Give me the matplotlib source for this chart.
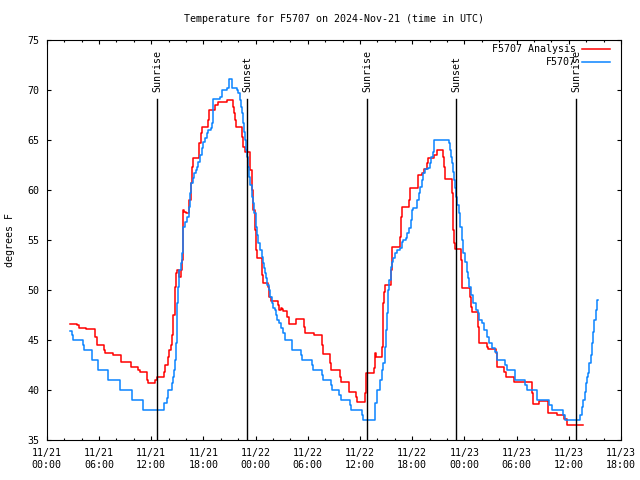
import matplotlib
matplotlib.use("Agg")
import matplotlib.pyplot as plt
from matplotlib.ticker import MultipleLocator

# hours since 2024-11-21 00:00 UTC, temperature in deg F
analysis_hours = [2.68, 3.44, 3.71, 4.48, 5.55, 5.74, 6.59, 6.70, 7.58, 8.54, 9.65, 10.53, 10.72,
                  11.49, 11.60, 12.45, 12.64, 13.48, 13.60, 13.98, 14.10, 14.25, 14.44, 14.56,
                  14.75, 14.86, 15.02, 15.25, 15.40, 15.51, 15.63, 15.71, 15.82, 15.97, 16.40,
                  16.55, 16.66, 16.78, 17.54, 17.70, 17.81, 18.50, 18.69, 19.35, 19.73, 20.69,
                  21.38, 21.53, 21.64, 21.76, 22.49, 22.60, 22.79, 23.37, 23.56, 23.75, 23.94,
                  24.06, 24.14, 24.71, 24.79, 24.83, 25.48, 25.59, 25.75, 26.63, 26.74, 26.89,
                  27.01, 27.12, 27.66, 27.81, 28.62, 29.62, 29.69, 30.73, 31.61, 31.72, 32.57,
                  32.64, 33.71, 33.79, 34.71, 35.55, 35.67, 36.59, 36.70, 37.62, 37.73, 37.85,
                  38.50, 38.62, 38.69, 38.81, 38.92, 39.53, 39.65, 39.73, 40.61, 40.72, 40.80,
                  41.68, 41.76, 42.71, 43.10, 43.37, 43.67, 43.79, 44.52, 44.82, 45.51, 45.66,
                  45.78, 46.55, 46.66, 46.74, 46.85, 46.97, 47.62, 47.70, 47.77, 48.65, 48.77,
                  48.92, 49.61, 49.69, 50.65, 50.76, 51.64, 51.76, 52.60, 52.75, 53.75, 55.74,
                  55.86, 56.62, 57.60, 58.69, 59.46, 59.77, 61.60]
analysis_temp = [46.6, 46.5, 46.2, 46.1, 45.3, 44.5, 44.0, 43.7, 43.5, 42.8, 42.3, 42.0, 41.8,
                 41.0, 40.7, 41.0, 41.3, 41.8, 42.5, 43.3, 44.0, 44.5, 45.5, 47.5,
                 50.3, 51.7, 52.0, 51.3, 52.0, 53.0, 56.3, 58.0, 57.8, 57.7, 59.0,
                 60.7, 62.3, 63.2, 64.7, 65.7, 66.3, 67.0, 68.0, 68.5, 68.8, 69.0,
                 68.3, 67.7, 67.0, 66.3, 65.3, 64.3, 63.8, 62.0, 60.0, 58.0, 56.0,
                 54.0, 53.2, 52.5, 51.5, 50.7, 50.3, 49.3, 48.9, 48.5, 48.0, 48.2,
                 48.1, 47.9, 47.3, 46.6, 47.1, 46.3, 45.7, 45.5, 44.5, 43.6, 42.7,
                 42.0, 41.3, 40.8, 39.8, 39.3, 38.8, 39.7, 41.7, 42.2, 43.7, 43.3,
                 44.3, 46.7, 48.7, 49.8, 50.5, 52.0, 53.3, 54.3, 55.3, 57.3, 58.3,
                 59.0, 60.2, 61.5, 61.7, 62.1, 62.7, 63.2, 63.5, 64.0, 63.3, 62.3,
                 61.1, 59.7, 57.3, 56.0, 54.7, 54.1, 53.0, 51.3, 50.2, 49.3, 48.3,
                 47.8, 46.3, 44.7, 44.3, 44.1, 43.7, 42.3, 41.8, 41.3, 40.8, 39.7,
                 38.6, 38.9, 37.7, 37.5, 37.1, 36.5, 36.5]

obs_hours = [2.68, 2.95, 3.06, 4.21, 4.33, 5.24, 5.93, 7.08, 8.43, 9.77, 11.10, 13.48, 13.79,
             13.98, 14.36, 14.48, 14.63, 14.79, 14.86, 14.94, 15.02, 15.13, 15.25, 15.40, 15.51,
             15.63, 15.71, 15.86, 16.09, 16.32, 16.40, 16.47, 16.63, 16.78, 16.97, 17.12, 17.24,
             17.43, 17.62, 17.81, 18.00, 18.20, 18.39, 18.58, 18.85, 18.96, 19.15, 19.92, 20.11,
             20.76, 20.95, 21.26, 21.84, 22.03, 22.22, 22.33, 22.45, 22.60, 22.72, 22.83, 22.95,
             23.06, 23.18, 23.29, 23.37, 23.56, 23.75, 23.87, 24.02, 24.14, 24.33, 24.52, 24.71,
             24.83, 24.98, 25.09, 25.21, 25.36, 25.55, 25.67, 25.86, 26.05, 26.24, 26.36, 26.51,
             26.74, 26.93, 27.12, 27.39, 28.16, 28.24, 29.19, 29.31, 30.46, 30.57, 31.68, 31.80,
             32.64, 32.76, 33.64, 33.79, 34.86, 34.98, 36.20, 36.32, 37.73, 37.93, 38.31, 38.50,
             38.69, 38.88, 39.00, 39.08, 39.27, 39.38, 39.53, 39.65, 39.84, 40.03, 40.22, 40.61,
             40.80, 40.99, 41.30, 41.45, 41.68, 41.83, 41.95, 42.14, 42.60, 42.75, 42.91, 43.10,
             43.29, 43.48, 43.86, 44.06, 44.21, 44.36, 44.52, 46.20, 46.35, 46.47, 46.58, 46.74,
             46.85, 46.97, 47.08, 47.20, 47.39, 47.50, 47.70, 47.89, 48.08, 48.27, 48.39, 48.54,
             48.77, 49.04, 49.31, 49.54, 49.69, 49.99, 50.30, 50.57, 50.88, 51.14, 51.53, 51.72,
             52.68, 52.87, 53.83, 54.98, 55.17, 56.32, 57.77, 58.04, 59.38, 59.57, 61.30, 61.53,
             61.68, 61.87, 61.99, 62.14, 62.26, 62.37, 62.52, 62.72, 62.83, 62.95, 63.10, 63.21,
             63.33]
obs_temp = [45.9, 45.5, 45.0, 44.5, 44.0, 43.0, 42.0, 41.0, 40.0, 39.0, 38.0, 38.7, 39.2,
            40.0, 40.7, 41.3, 42.0, 43.0, 44.7, 46.7, 48.7, 50.3, 52.0, 52.7, 53.7,
            55.0, 56.3, 56.8, 57.3, 57.7, 58.3, 59.7, 60.7, 61.2, 61.7, 62.0, 62.3,
            62.8, 63.5, 64.2, 64.8, 65.2, 65.7, 66.0, 66.2, 66.7, 69.1, 69.3, 70.0,
            70.2, 71.1, 70.2, 70.0, 69.7, 69.0, 68.3, 67.7, 66.7, 65.8, 65.0, 64.0,
            63.3, 62.3, 61.3, 60.5, 59.3, 58.7, 57.7, 56.3, 55.5, 54.7, 54.0, 53.3,
            52.7, 52.2, 51.7, 51.2, 50.5, 50.0, 49.3, 48.7, 48.2, 48.0, 47.5, 47.0,
            46.7, 46.2, 45.7, 45.0, 44.5, 44.0, 43.5, 43.0, 42.5, 42.0, 41.5, 41.0,
            40.5, 40.0, 39.5, 39.0, 38.5, 38.0, 37.5, 37.0, 38.7, 40.0, 41.0, 42.0,
            42.7, 44.3, 46.0, 47.7, 50.0, 51.0, 52.3, 52.8, 53.2, 53.7, 54.0, 54.2,
            54.8, 55.0, 55.2, 55.7, 56.2, 57.0, 58.0, 58.2, 59.0, 59.7, 60.3, 61.0,
            61.7, 62.1, 62.2, 62.7, 63.3, 63.8, 65.0, 64.7, 64.0, 63.3, 62.7, 61.8,
            61.0, 60.2, 59.3, 58.5, 57.7, 56.3, 55.0, 53.7, 52.8, 51.8, 51.2, 50.3,
            49.5, 48.7, 48.0, 47.7, 47.0, 46.7, 46.0, 45.3, 44.7, 44.2, 43.8, 43.0,
            42.5, 42.0, 41.0, 40.5, 40.0, 39.0, 38.5, 38.0, 37.5, 37.0, 37.5, 38.3,
            39.0, 39.8, 40.7, 41.3, 41.7, 42.7, 43.5, 44.7, 45.8, 47.0, 48.0, 49.0,
            49.0]

event_hours = [12.68, 23.06, 36.81, 47.08, 60.88]
event_labels = ["Sunrise", "Sunset", "Sunrise", "Sunset", "Sunrise"]

tick_hours = list(range(0, 67, 6))
tick_labels = ["11/21\n00:00", "11/21\n06:00", "11/21\n12:00", "11/21\n18:00",
               "11/22\n00:00", "11/22\n06:00", "11/22\n12:00", "11/22\n18:00",
               "11/23\n00:00", "11/23\n06:00", "11/23\n12:00", "11/23\n18:00"]

plt.rcParams['font.family'] = ['DejaVu Sans Mono']
fs = 7.2

fig = plt.figure(figsize=(6.4, 4.8), dpi=100)
ax = fig.add_axes([46.7 / 640, 40 / 480, 574.3 / 640, 400 / 480])

ax.plot(analysis_hours, analysis_temp, drawstyle='steps-post', color='#ff0000', lw=1.1)
ax.plot(obs_hours, obs_temp, drawstyle='steps-post', color='#0a84ff', lw=1.1)

# sunrise / sunset markers
for h, lab in zip(event_hours, event_labels):
    ax.axvline(h, ymin=0, ymax=0.8525, color='black', lw=1)
    ax.text(h, 0.87, lab, rotation=90, ha='center', va='bottom', fontsize=fs,
            transform=ax.get_xaxis_transform())

ax.set_xlim(0, 66)
ax.set_ylim(35, 75)
ax.set_xticks(tick_hours)
ax.set_xticklabels(tick_labels)
ax.xaxis.set_minor_locator(MultipleLocator(2))
ax.yaxis.set_major_locator(MultipleLocator(5))
ax.tick_params(which='both', direction='in', top=True, right=True, labelsize=fs, width=0.8)
ax.tick_params(which='major', length=3.2)
ax.tick_params(which='minor', length=1.7)
ax.tick_params(axis='x', pad=6)
ax.tick_params(axis='y', pad=5)
for s in ax.spines.values():
    s.set_linewidth(0.8)

# legend drawn gnuplot style
leg = [("F5707 Analysis", '#ff0000', 0.9775), ("F5707", '#0a84ff', 0.945)]
for lab, col, yy in leg:
    ax.text(0.921, yy, lab, ha='right', va='center', fontsize=fs, transform=ax.transAxes)
    ax.plot([0.932, 0.981], [yy, yy], color=col, lw=1.1, transform=ax.transAxes)

fig.text(334 / 640, 1 - 19 / 480, "Temperature for F5707 on 2024-Nov-21 (time in UTC)",
         ha='center', va='center', fontsize=fs)
fig.text(10 / 640, 0.5, "degrees F", rotation=90, ha='center', va='center', fontsize=fs)

fig.savefig("out.png", dpi=100)
